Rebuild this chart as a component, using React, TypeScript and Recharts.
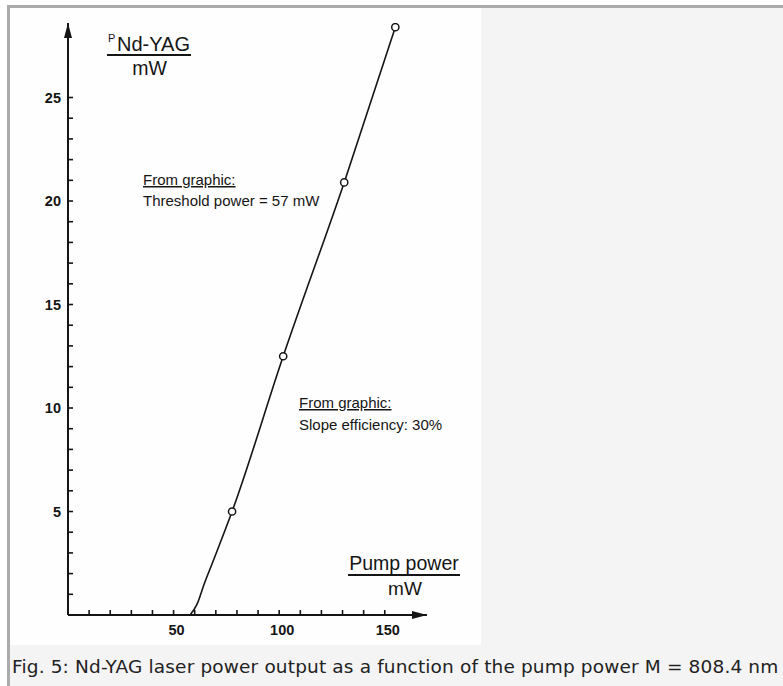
import React from "react";
import { LineChart, Line, XAxis, YAxis } from "recharts";

// pump power (mW) and Nd-YAG output (mW)
const pumpPower = [57.8, 61, 64.5, 68.7, 77.7, 101.9, 130.8, 155];
const outputPower = [0, 0.5, 1.5, 2.6, 5, 12.5, 20.9, 28.4];
// which of the points are measured (drawn with a circle)
const measuredPoint = [false, false, false, false, true, true, true, true];

const xTicks = [10, 20, 30, 40, 50, 60, 70, 80, 90, 100, 110, 120, 130, 140, 150];
const xLabels = [50, 100, 150];
const yTicks = [1, 2, 3, 4, 5, 6, 7, 8, 9, 10, 11, 12, 13, 14, 15, 16, 17, 18, 19, 20, 21, 22, 23, 24, 25];
const yLabels = [5, 10, 15, 20, 25];

const data = pumpPower.map((p, i) => ({
  pump: p,
  out: outputPower[i],
  measured: measuredPoint[i],
}));

const INK = "#151515";
const FONT = "'Liberation Sans', Arial, sans-serif";

function Dot(props: any) {
  const { cx, cy, payload, index } = props;
  if (!payload || !payload.measured) return <g key={"d" + index} />;
  return <circle key={"d" + index} cx={cx} cy={cy} r={3.6} fill="#fff" stroke={INK} strokeWidth={1.5} />;
}

export default function App() {
  return (
    <div style={{ position: "absolute", left: 0, top: 0, width: 783, height: 686, background: "#fff", overflow: "hidden" }}>
      <div style={{
        position: "absolute", left: 7, top: 5, right: 0, bottom: 0,
        borderTop: "3px solid #ababab", borderLeft: "3px solid #ababab",
        background: "#f4f4f4",
      }} />
      <div style={{ position: "absolute", left: 10, top: 8, width: 471, height: 637, background: "#fefefe" }}>
        <LineChart width={471} height={637} data={data} margin={{ top: 15, right: 54, left: 0, bottom: 0 }}>
          <defs>
            <marker id="arrowHead" viewBox="0 0 15 8" refX={15} refY={4} markerWidth={15} markerHeight={8}
              markerUnits="userSpaceOnUse" orient="auto-start-reverse">
              <path d="M0,0 L15,4 L0,8 z" fill={INK} />
            </marker>
          </defs>
          <XAxis
            type="number" dataKey="pump" domain={[0, 170]} ticks={xTicks} interval={0}
            allowDataOverflow height={30}
            tickFormatter={(v: number) => (xLabels.includes(v) ? String(v) : "")}
            tick={{ fontSize: 14.5, fill: INK, fontFamily: FONT, fontWeight: 700, dx: 3 }}
            tickSize={-5} tickMargin={15}
            tickLine={{ stroke: INK, strokeWidth: 1.6 }}
            axisLine={{ stroke: INK, strokeWidth: 2, markerEnd: "url(#arrowHead)" }}
          />
          <YAxis
            type="number" domain={[0, 28.6]} ticks={yTicks} interval={0}
            allowDataOverflow width={58}
            tickFormatter={(v: number) => (yLabels.includes(v) ? String(v) : "")}
            tick={{ fontSize: 14.5, fill: INK, fontFamily: FONT, fontWeight: 700 }}
            tickSize={-5} tickMargin={12}
            tickLine={{ stroke: INK, strokeWidth: 1.6 }}
            axisLine={{ stroke: INK, strokeWidth: 2, markerStart: "url(#arrowHead)" }}
          />
          <Line
            type="monotone" dataKey="out" stroke={INK} strokeWidth={1.6}
            dot={Dot} activeDot={false} isAnimationActive={false}
          />
        </LineChart>
      </div>
      <svg width={783} height={686} style={{ position: "absolute", left: 0, top: 0, pointerEvents: "none" }}
        fontFamily={FONT} fill={INK}>
        <text x={108} y={42} fontSize={11}>P</text>
        <text x={117} y={51} fontSize={20}>Nd-YAG</text>
        <line x1={107} x2={191} y1={55} y2={55} stroke={INK} strokeWidth={1.8} />
        <text x={149.5} y={75} fontSize={19.5} textAnchor="middle">mW</text>

        <text x={404} y={570} fontSize={19.5} textAnchor="middle">Pump power</text>
        <line x1={348} x2={460} y1={575} y2={575} stroke={INK} strokeWidth={1.8} />
        <text x={405} y={595} fontSize={19} textAnchor="middle">mW</text>

        <text x={143} y={185} fontSize={15} textDecoration="underline">From graphic:</text>
        <text x={143} y={206} fontSize={15}>Threshold power = 57 mW</text>
        <text x={299} y={408} fontSize={15} textDecoration="underline">From graphic:</text>
        <text x={299} y={430} fontSize={15}>Slope efficiency: 30%</text>
      </svg>
      <div style={{
        position: "absolute", left: 12, top: 658, fontFamily: "'DejaVu Sans', sans-serif",
        fontSize: 18.5, lineHeight: "18.5px", letterSpacing: 0.15, color: "#222", whiteSpace: "nowrap",
      }}>
        Fig. 5: Nd-YAG laser power output as a function of the pump power M = 808.4 nm
      </div>
    </div>
  );
}
